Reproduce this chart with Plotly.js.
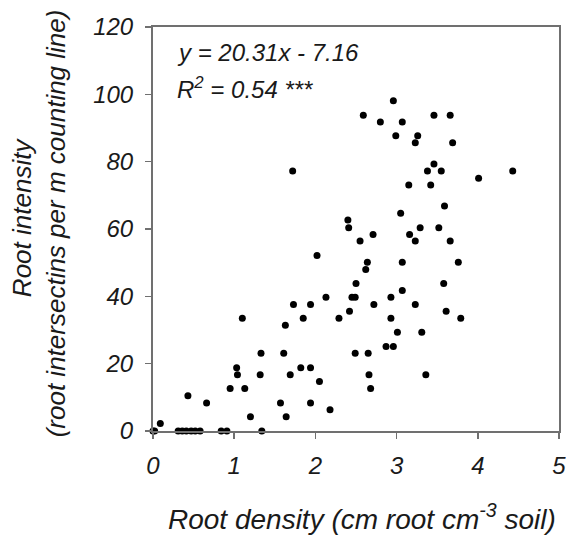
<!DOCTYPE html>
<html><head><meta charset="utf-8">
<script src="https://cdn.plot.ly/plotly-3.0.1.min.js"></script>
<style>html,body{margin:0;padding:0;background:#fff}#chart{width:566px;height:538px}</style>
</head><body><div id="chart"></div>
<script>
const rootDensity = [2.59,2.80,2.96,3.07,2.99,3.26,3.23,3.46,3.66,3.69,
 1.72,3.46,3.38,3.55,4.01,4.43,3.15,3.42,3.59,3.05,2.40,2.41,3.29,3.52,2.71,3.16,2.55,3.23,3.66,2.02,2.64,3.07,3.76,2.62,2.50,3.58,3.07,2.13,2.45,2.49,2.93,
 1.73,1.94,2.72,3.23,2.42,3.61,1.10,1.85,2.29,2.93,3.79,1.63,3.01,3.31,2.87,2.96,1.33,1.61,2.49,2.65,1.03,1.82,1.94,1.04,1.32,1.69,2.66,3.36,2.05,0.95,1.13,2.68,0.43,0.66,1.57,1.94,2.18,1.20,1.64,0.09,
 0,0.02,0.31,0.36,0.41,0.47,0.52,0.58,0.84,0.91,1.34];
const rootIntensity = [93.8,91.8,98.1,91.8,87.7,87.7,85.6,93.8,93.8,85.6,
 77.2,79.3,77.2,77.2,75.1,77.2,73.1,73.1,66.8,64.7,62.7,60.4,60.4,60.4,58.4,58.4,56.4,56.4,56.4,52.1,50.1,50.1,50.1,48.0,43.8,43.8,41.7,39.7,39.7,39.7,39.7,
 37.6,37.6,37.6,37.6,35.6,35.6,33.5,33.5,33.5,33.5,33.5,31.4,29.3,29.3,25.1,25.1,23.1,23.1,23.1,23.1,18.8,18.8,18.8,16.7,16.7,16.7,16.7,16.7,14.7,12.6,12.6,12.6,10.5,8.3,8.3,8.3,6.3,4.2,4.2,2.2,
 0,0,0,0,0,0,0,0,0,0,0];
const xTicks = [0,1,2,3,4,5];
const yTicks = [0,20,40,60,80,100,120];
const xTitle = 'Root density (cm root cm<sup>-3</sup> soil)';
const yTitle1 = 'Root intensity';
const yTitle2 = '(root intersectins per m counting line)';
const eqLine = 'y = 20.31x - 7.16';
const r2Line = 'R<sup>2</sup> = 0.54 ***';

const F = 'Liberation Sans, Arial, sans-serif';
const axisCol = '#707070';
const txt = '#1a1a1a';
const trace = {x: rootDensity, y: rootIntensity, type:'scatter', mode:'markers',
  marker:{color:'#000', size:7}, cliponaxis:false, hoverinfo:'none'};
const layout = {
  width:566, height:538, showlegend:false,
  paper_bgcolor:'#fff', plot_bgcolor:'#fff',
  margin:{l:153, r:7, t:27, b:107},
  font:{family:F, color:txt},
  xaxis:{range:[0,5], tickvals:xTicks, ticktext:xTicks.map(String), showgrid:false, zeroline:false,
    showline:true, mirror:true, linecolor:axisCol, linewidth:2, ticks:'outside', ticklen:6, tickcolor:axisCol, tickwidth:1.5,
    tickfont:{family:F, size:24, style:'italic', color:txt}, ticklabelstandoff:6, ticklabeloverflow:'allow'},
  yaxis:{range:[0,120], tickvals:yTicks, ticktext:yTicks.map(String), showgrid:false, zeroline:false,
    showline:true, mirror:true, linecolor:axisCol, linewidth:2, ticks:'outside', ticklen:6, tickcolor:axisCol, tickwidth:1.5,
    tickfont:{family:F, size:24, style:'italic', color:txt}, ticklabelstandoff:7, ticklabeloverflow:'allow'},
  annotations:[
    {text:eqLine, xref:'paper', yref:'y', x:0.055, y:112.5, xanchor:'left', yanchor:'middle', showarrow:false,
     font:{family:F, size:24, style:'italic', color:txt}},
    {text:r2Line, xref:'paper', yref:'y', x:0.055, y:102, xanchor:'left', yanchor:'middle', showarrow:false,
     font:{family:F, size:24, style:'italic', color:txt}},
    {text:xTitle, xref:'paper', yref:'paper', x:0.514, y:-0.214, xanchor:'center', yanchor:'middle', showarrow:false,
     font:{family:F, size:28, style:'italic', color:txt}},
    {text:yTitle1, xref:'paper', yref:'paper', x:-0.322, y:0.53, xanchor:'center', yanchor:'middle', showarrow:false, textangle:-90,
     font:{family:F, size:26, style:'italic', color:txt}},
    {text:yTitle2, xref:'paper', yref:'paper', x:-0.238, y:0.515, xanchor:'center', yanchor:'middle', showarrow:false, textangle:-90,
     font:{family:F, size:26, style:'italic', color:txt}}
  ]
};
Plotly.newPlot('chart', [trace], layout, {staticPlot:true, displayModeBar:false});
</script></body></html>
